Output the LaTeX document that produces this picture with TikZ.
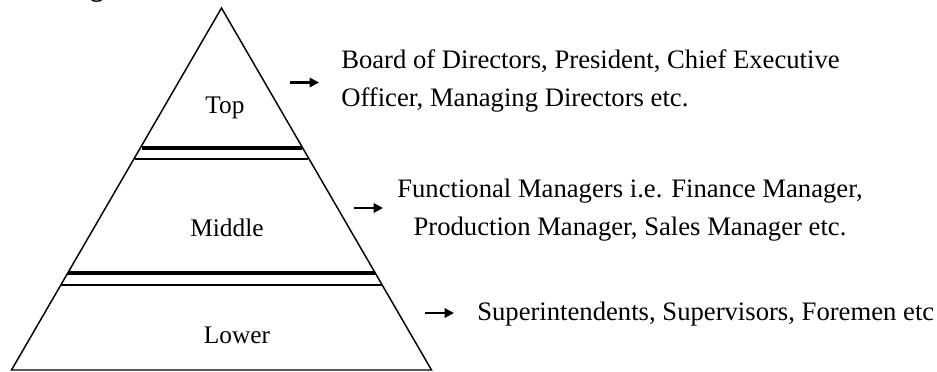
\documentclass[tikz,border=0pt]{standalone}
\usepackage{fontspec}
\setmainfont{Liberation Serif}
\usetikzlibrary{arrows.meta}
\begin{document}
\begin{tikzpicture}[x=0.75pt,y=-0.75pt,
  edge/.style={line width=1.1pt,line join=miter},
  thickbar/.style={line width=2.6pt},
  thinbar/.style={line width=1.1pt},
  pointer/.style={line width=1.6pt,-{Triangle[length=7pt,width=7pt]}},
  lvl/.style={font=\fontsize{19pt}{23pt}\selectfont,inner sep=0pt},
  desc/.style={font=\fontsize{20pt}{28.5pt}\selectfont,inner sep=0pt,align=left},
]
\useasboundingbox (0,0) rectangle (937,371);
% cut-off heading fragment
\node[font=\fontsize{20pt}{24pt}\selectfont\bfseries,anchor=base,inner sep=0pt] (head) at (97,-3.5) {g};
% pyramid
\coordinate (apex) at (221.5,8);
\coordinate (bl) at (11.5,370);
\coordinate (br) at (431.5,370);
\draw[edge] (bl) -- (apex) -- (br) -- cycle;
% bars
\draw[thickbar] (141.5,148) -- (301.5,148);
\draw[thinbar] (135,159) -- (308,159);
\draw[thickbar] (68,273) -- (375,273);
\draw[thinbar] (61,285) -- (382,285);
% level labels
\node[lvl] (top) at (225,108) {Top};
\node[lvl] (mid) at (227,228) {Middle};
\node[lvl] (low) at (237,335) {Lower};
% descriptions
\node[desc,anchor=west] (dtop) at (341,81) {Board of Directors, President, Chief Executive\\Officer, Managing Directors etc.};
\node[desc,align=center] (dmid) at (630,210.5) {Functional Managers i.e. Finance Manager,\\Production Manager, Sales Manager etc.};
\node[desc,anchor=west] (dlow) at (477,314) {Superintendents, Supervisors, Foremen etc};
% arrows
\coordinate (a1s) at (290,82.5);
\coordinate (a1e) at (319,82.5);
\coordinate (a2s) at (354,208);
\coordinate (a2e) at (383,208);
\coordinate (a3s) at (425,313);
\coordinate (a3e) at (454,313);
\draw[pointer] (a1s) -- (a1e);
\draw[pointer] (a2s) -- (a2e);
\draw[pointer] (a3s) -- (a3e);
\end{tikzpicture}
\end{document}
